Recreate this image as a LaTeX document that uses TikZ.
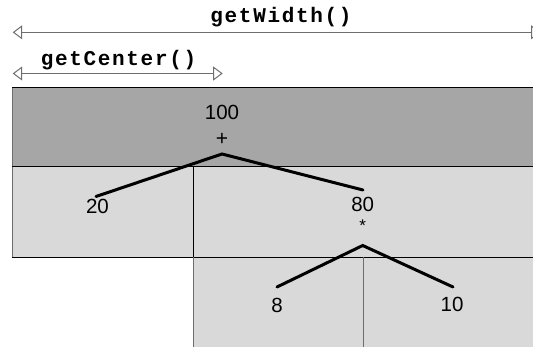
\documentclass[tikz,border=0pt]{standalone}
\usepackage{fontspec}
\setmainfont{Liberation Sans}
\newfontfamily\codefont{Liberation Mono}[LetterSpace=8]
\usetikzlibrary{arrows.meta}
\definecolor{darkband}{HTML}{A6A6A6}
\definecolor{lightcell}{HTML}{D9D9D9}
\definecolor{arrowgray}{HTML}{6E6E6E}
\tikzset{
  x=1pt,y=-1pt,
  band/.style={fill=darkband,draw=black,line width=1pt},
  cell/.style={fill=lightcell,draw=black,line width=0.9pt},
  lowcell/.style={fill=lightcell,draw=arrowgray,line width=1pt},
  valuelabel/.style={inner sep=0pt,font=\fontsize{20.5}{20.5}\selectfont},
  pluslabel/.style={inner sep=0pt,font=\fontsize{21}{21}\selectfont},
  starlabel/.style={inner sep=0pt,font=\fontsize{17}{17}\selectfont},
  codelabel/.style={inner sep=0pt,font=\codefont\bfseries\fontsize{21}{21}\selectfont},
  measure/.style={draw=arrowgray,line width=1.3pt,
    {Triangle[open,length=9.5pt,width=14pt,line width=1pt,fill=white]}-{Triangle[open,length=9.5pt,width=14pt,line width=1pt,fill=white]}},
  branch/.style={draw=black,line width=3pt,line cap=round,line join=miter},
}
\begin{document}
\begin{tikzpicture}
\useasboundingbox (0,0) rectangle (533,347);
% measurement arrows
\coordinate (wl) at (12.7,32.3);
\coordinate (wr) at (540.5,32.3);
\draw[measure] (wl) -- (wr);
\node[codelabel] (gw) at (281,17) {getWidth()};
\coordinate (cl) at (12.7,73.5);
\coordinate (cr) at (222.7,73.5);
\draw[measure] (cl) -- (cr);
\node[codelabel] (gc) at (118.5,60) {getCenter()};
% cells
\fill[darkband] (12.3,88) rectangle (600,167);
\fill[lightcell] (12.3,167) rectangle (600,257.3);
\fill[lightcell] (193.7,257.3) rectangle (600,400);
\draw[black,line width=1pt] (600,88) -- (12.3,88);
\draw[arrowgray,line width=1pt] (12.3,88) -- (12.3,257.3);
\draw[black,line width=1pt] (12.3,167) -- (600,167);
\draw[black,line width=0.9pt] (193.7,167) -- (193.7,257.3);
\draw[black,line width=1pt] (12.3,257.3) -- (600,257.3);
\draw[arrowgray,line width=1pt] (193.7,257.3) -- (193.7,400);
\draw[arrowgray,line width=1pt] (363,257.3) -- (363,400);
% tree
\node[valuelabel] (n100) at (222,112) {100};
\node[pluslabel] (plus) at (222,139) {+};
\coordinate (top1) at (222,154);
\node[valuelabel] (n20) at (97.5,206) {20};
\coordinate (e20) at (96,196.5);
\node[valuelabel] (n80) at (362.7,204) {80};
\coordinate (e80) at (363,190);
\node[starlabel] (times) at (362.7,226) {*};
\coordinate (top2) at (362.7,245.5);
\node[valuelabel] (n8) at (277,305.5) {8};
\coordinate (e8) at (277,287);
\node[valuelabel] (n10) at (452,304) {10};
\coordinate (e10) at (453,287);
\draw[branch] (e20) -- (top1) -- (e80);
\draw[branch] (e8) -- (top2) -- (e10);
\end{tikzpicture}
\end{document}
